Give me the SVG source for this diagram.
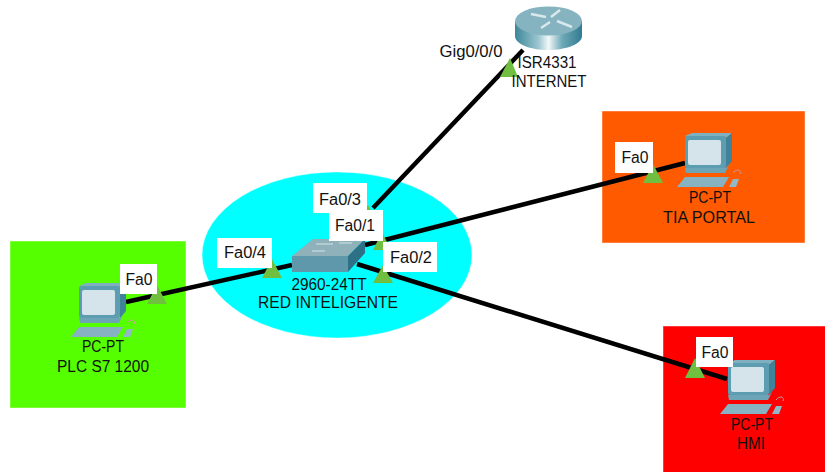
<svg xmlns="http://www.w3.org/2000/svg" width="825" height="472" viewBox="0 0 825 472">
<style>
text{font-family:"Liberation Sans",Arial,sans-serif;font-size:16px;fill:#111;text-anchor:middle}
.tag{fill:#fff}
.tri{fill:#70bf41}
.link{stroke:#000;stroke-width:4.5;fill:none}
.area{stroke:#fff;stroke-opacity:.45;stroke-width:1}
.icon{filter:url(#soft)}
</style>
<defs>
<filter id="soft" x="-5%" y="-5%" width="110%" height="110%"><feGaussianBlur stdDeviation="0.5"/></filter>
<linearGradient id="rb" x1="0" x2="1" y1="0" y2="0">
<stop offset="0" stop-color="#3d8799"/><stop offset=".35" stop-color="#9cc6d0"/><stop offset=".5" stop-color="#f2f8f9"/><stop offset=".7" stop-color="#6fa9b8"/><stop offset="1" stop-color="#2f7c90"/>
</linearGradient>
<symbol id="pc" width="66" height="56" viewBox="0 0 66 56" overflow="visible">
<polygon points="8,3 15,0 55,0 49,5" fill="#7fb0c0"/>
<polygon points="49,5 55,0 55,28 49,35" fill="#3f8297"/>
<rect x="8" y="3" width="41" height="32" rx="2" fill="#5b9db2"/>
<rect x="11" y="7" width="33" height="25" rx="2" fill="#d5e4eb"/>
<polygon points="8,35 49,35 52,32 48,40 9,40" fill="#6ea5b6"/>
<polygon points="0,54 8,44 52,44 46,54" fill="#86b2c2"/>
<polygon points="52,54 56,46 62,46 59,54" fill="#8fb9c7"/>
<path d="M56,40 C60,35 65,37 63,41" fill="none" stroke="#c99" stroke-width="1"/>
</symbol>
</defs>
<g id="areas">
<rect class="area" x="602" y="111" width="203" height="132" fill="#ff5a00"/>
<rect class="area" x="10" y="241" width="176" height="167" fill="#55ff00"/>
<rect class="area" x="663" y="326" width="163" height="147" fill="#ff0000"/>
<ellipse class="area" cx="337" cy="255" rx="135" ry="83" fill="#00ffff"/>
</g>
<g id="connectors">
<line class="link" x1="126" y1="302" x2="292" y2="265"/>
<line class="link" x1="365" y1="245" x2="685" y2="163"/>
<line class="link" x1="357" y1="264" x2="727" y2="379"/>
<line class="link" x1="373" y1="208" x2="523" y2="50"/>
</g>
<g id="link-markers">
<polygon class="tri" points="510,58 500,77 518,77"/>
<polygon class="tri" points="272,259 262,278 282,278"/>
<polygon class="tri" points="383,265 373,283 393,283"/>
<polygon class="tri" points="382,232 373,250 391,250"/>
<polygon class="tri" points="368,205 358,223 378,223"/>
<polygon class="tri" points="653,164 643,183 663,183"/>
<polygon class="tri" points="157,285 147,304 167,304"/>
<polygon class="tri" points="695,358 685,378 705,378"/>
</g>
<g id="router">
<g class="icon">
<path d="M515,21 V36 C515,44 530,50 548,50 C566,50 582,44 582,36 V21 Z" fill="url(#rb)"/>
<ellipse cx="548.500" cy="21" rx="33.500" ry="14.500" fill="#86b3c0"/>
<path d="M531,14 L546,17 M541,28 L550,22 M560,10 L551,17 M557,21 L572,27" stroke="#d8e8ec" stroke-width="2.500" fill="none"/>
</g>
<text x="547" y="68" textLength="59" lengthAdjust="spacingAndGlyphs">ISR4331</text>
<text x="549" y="87" textLength="75" lengthAdjust="spacingAndGlyphs">INTERNET</text>
</g>
<g id="switch">
<g class="icon">
<polygon points="292,256 313,239 365,239 348,256" fill="#8fb1ba"/>
<rect x="292" y="256" width="56" height="16" fill="#5f97ab"/>
<polygon points="348,256 365,239 365,253 348,272" fill="#2e7085"/>
<path d="M316,244 H333 M339,243 H352 M312,251 H325" stroke="#d5e4e8" stroke-width="1"/>
</g>
<text x="329" y="290" textLength="75" lengthAdjust="spacingAndGlyphs">2960-24TT</text>
<text x="328" y="308" textLength="140" lengthAdjust="spacingAndGlyphs">RED INTELIGENTE</text>
</g>
<g id="pc-tia">
<use class="icon" href="#pc" x="677" y="133"/>
<text x="710" y="203" textLength="42" lengthAdjust="spacingAndGlyphs">PC-PT</text>
<text x="709" y="223" textLength="92" lengthAdjust="spacingAndGlyphs">TIA PORTAL</text>
</g>
<g id="pc-plc">
<use class="icon" href="#pc" x="71" y="283"/>
<text x="103" y="352" textLength="42" lengthAdjust="spacingAndGlyphs">PC-PT</text>
<text x="103" y="372" textLength="92" lengthAdjust="spacingAndGlyphs">PLC S7 1200</text>
</g>
<g id="pc-hmi">
<use class="icon" href="#pc" x="720" y="360"/>
<text x="752" y="430" textLength="42" lengthAdjust="spacingAndGlyphs">PC-PT</text>
<text x="751" y="449" textLength="28" lengthAdjust="spacingAndGlyphs">HMI</text>
</g>
<g id="port-labels">
<text x="471" y="57" textLength="63" lengthAdjust="spacingAndGlyphs">Gig0/0/0</text>
<rect class="tag" x="313" y="183" width="54" height="30"/><text x="340" y="205" textLength="42" lengthAdjust="spacingAndGlyphs">Fa0/3</text>
<rect class="tag" x="329" y="210" width="54" height="31"/><text x="355" y="231" textLength="40" lengthAdjust="spacingAndGlyphs">Fa0/1</text>
<rect class="tag" x="217" y="238" width="55" height="30"/><text x="245" y="258" textLength="42" lengthAdjust="spacingAndGlyphs">Fa0/4</text>
<rect class="tag" x="383" y="242" width="54" height="30"/><text x="411" y="263" textLength="42" lengthAdjust="spacingAndGlyphs">Fa0/2</text>
<rect class="tag" x="615" y="142" width="38" height="31"/><text x="635" y="163" textLength="27" lengthAdjust="spacingAndGlyphs">Fa0</text>
<rect class="tag" x="120" y="264" width="37" height="30"/><text x="139" y="285" textLength="27" lengthAdjust="spacingAndGlyphs">Fa0</text>
<rect class="tag" x="696" y="337" width="37" height="30"/><text x="715" y="358" textLength="27" lengthAdjust="spacingAndGlyphs">Fa0</text>
</g>
</svg>
